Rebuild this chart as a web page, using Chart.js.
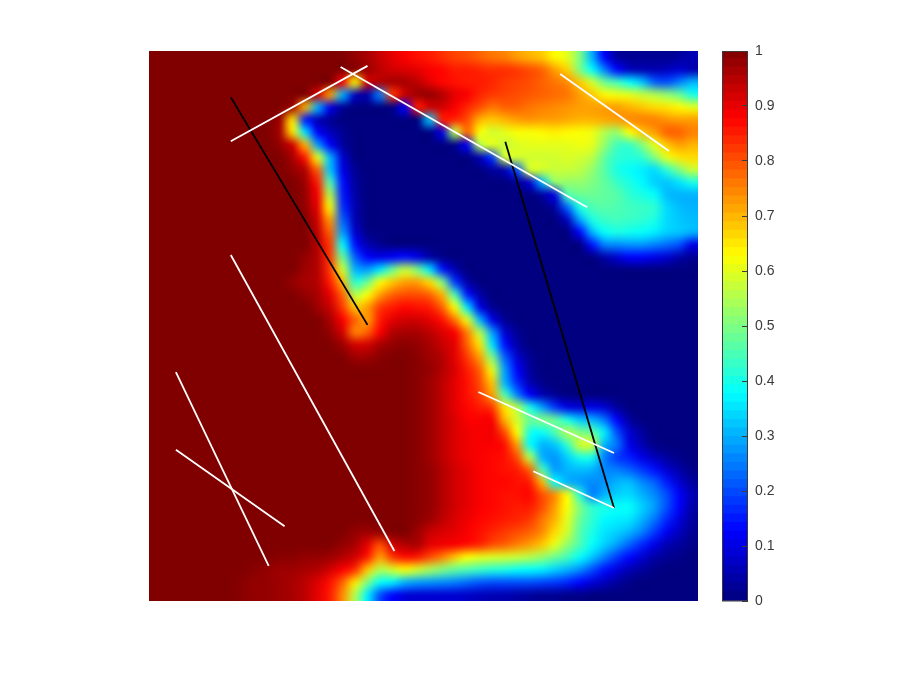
<!DOCTYPE html>
<html><head><meta charset="utf-8">
<style>html,body{margin:0;padding:0;background:#fff;width:900px;height:675px;overflow:hidden}
canvas{position:absolute;top:0}</style>
<script src="https://cdn.jsdelivr.net/npm/chart.js@4/dist/chart.umd.min.js"></script>
</head><body>
<canvas id="map" width="700" height="675" style="left:0"></canvas>
<canvas id="bar" width="200" height="675" style="left:700px"></canvas>
<script>
// field values x100, one row per image row, top to bottom
const fieldRows = [
[100,100,100,100,100,100,100,100,100,100,100,100,100,100,100,100,98,96,93,90,88,86,85,83,81,80,78,76,75,72,70,68,63,60,50,30,12,3,2,2,2,2,3,5],
[100,100,100,100,100,100,100,100,100,100,100,100,100,100,100,100,99,97,94,92,91,90,88,87,85,85,84,83,83,82,80,78,72,67,50,38,25,13,6,5,5,6,8,5],
[100,100,100,100,100,100,100,100,100,100,100,100,100,100,100,88,62,92,95,96,96,94,90,87,86,85,85,84,82,81,80,78,76,74,68,58,48,44,38,32,22,20,25,30],
[100,100,100,100,100,100,100,100,100,100,100,100,100,92,72,30,6,4,25,82,93,97,98,95,90,88,84,82,81,80,79,78,77,76,72,68,63,61,60,57,55,52,48,40],
[100,100,100,100,100,100,100,100,100,100,100,97,70,30,10,2,0,0,0,0,12,85,92,92,88,84,80,76,78,78,76,75,74,73,72,72,72,72,70,68,66,65,63,60],
[100,100,100,100,100,100,100,100,100,100,97,65,15,5,2,0,0,0,0,0,0,0,32,85,84,80,70,68,70,72,73,72,72,71,70,70,71,72,74,75,75,73,72,72],
[100,100,100,100,100,100,100,100,100,100,96,65,35,12,6,2,0,0,0,0,0,0,0,10,55,78,62,58,60,62,62,63,64,63,62,61,55,52,62,68,72,78,78,75],
[100,100,100,100,100,100,100,100,100,100,98,92,70,28,12,3,0,0,0,0,0,0,0,0,1,12,55,60,57,59,60,60,60,60,61,60,52,44,43,50,60,68,72,70],
[100,100,100,100,100,100,100,100,100,100,100,96,85,60,30,8,0,0,0,0,0,0,0,0,0,0,5,18,58,58,58,58,58,59,58,56,47,42,41,42,50,60,65,66],
[100,100,100,100,100,100,100,100,100,100,100,98,95,78,32,10,2,0,0,0,0,0,0,0,0,0,0,3,5,20,58,58,57,57,56,52,46,40,38,36,34,42,50,57],
[100,100,100,100,100,100,100,100,100,100,100,100,97,85,45,14,3,0,0,0,0,0,0,0,0,0,0,0,0,2,8,30,52,52,52,50,47,43,40,37,33,32,35,40],
[100,100,100,100,100,100,100,100,100,100,100,100,98,88,55,15,4,0,0,0,0,0,0,0,0,0,0,0,0,0,0,3,10,45,48,48,47,46,42,40,38,31,30,30],
[100,100,100,100,100,100,100,100,100,100,100,100,98,90,62,17,5,0,0,0,0,0,0,0,0,0,0,0,0,0,0,0,3,22,40,45,46,45,44,43,42,34,31,30],
[100,100,100,100,100,100,100,100,100,100,100,100,100,92,72,22,5,0,0,0,0,0,0,0,0,0,0,0,0,0,0,0,0,6,28,40,43,44,43,42,40,34,32,31],
[100,100,100,100,100,100,100,100,100,100,100,100,100,94,78,28,8,1,0,0,0,0,0,0,0,0,0,0,0,0,0,0,0,0,12,30,38,40,39,38,36,33,32,30],
[100,100,100,100,100,100,100,100,100,100,100,100,100,95,82,38,14,5,2,0,0,0,0,0,0,0,0,0,0,0,0,0,0,0,0,14,25,26,27,27,25,23,20,10],
[100,100,100,100,100,100,100,100,100,100,100,100,98,95,82,48,22,12,10,12,14,10,4,1,0,0,0,0,0,0,0,0,0,0,0,0,4,8,12,12,10,8,4,2],
[100,100,100,100,100,100,100,100,100,100,100,100,97,95,82,58,30,28,35,48,57,50,35,15,5,0,0,0,0,0,0,0,0,0,0,0,0,0,0,0,0,0,0,0],
[100,100,100,100,100,100,100,100,100,100,100,98,96,95,85,70,42,48,62,68,72,72,66,50,18,4,0,0,0,0,0,0,0,0,0,0,0,0,0,0,0,0,0,0],
[100,100,100,100,100,100,100,100,100,100,100,100,98,96,90,78,55,62,72,78,80,80,78,70,45,15,4,0,0,0,0,0,0,0,0,0,0,0,0,0,0,0,0,0],
[100,100,100,100,100,100,100,100,100,100,100,100,100,97,93,82,68,72,82,85,87,86,85,78,62,35,10,2,0,0,0,0,0,0,0,0,0,0,0,0,0,0,0,0],
[100,100,100,100,100,100,100,100,100,100,100,100,100,100,96,88,78,72,85,90,92,92,90,86,76,60,30,10,2,0,0,0,0,0,0,0,0,0,0,0,0,0,0,0],
[100,100,100,100,100,100,100,100,100,100,100,100,100,100,98,92,75,78,88,95,96,96,94,91,88,75,55,28,8,2,0,0,0,0,0,0,0,0,0,0,0,0,0,0],
[100,100,100,100,100,100,100,100,100,100,100,100,100,100,100,97,92,92,96,98,99,98,96,93,90,78,65,35,14,4,0,0,0,0,0,0,0,0,0,0,0,0,0,0],
[100,100,100,100,100,100,100,100,100,100,100,100,100,100,100,100,97,97,99,100,100,99,97,95,90,82,72,50,22,8,2,0,0,0,0,0,0,0,0,0,0,0,0,0],
[100,100,100,100,100,100,100,100,100,100,100,100,100,100,100,100,100,100,100,100,100,99,98,95,91,85,78,60,28,12,3,0,0,0,0,0,0,0,0,0,0,0,0,0],
[100,100,100,100,100,100,100,100,100,100,100,100,100,100,100,100,100,100,100,100,100,99,97,94,90,86,80,68,30,16,5,1,0,0,0,0,0,0,0,0,0,0,0,0],
[100,100,100,100,100,100,100,100,100,100,100,100,100,100,100,100,100,100,100,100,100,99,97,94,90,86,82,72,45,25,12,5,2,0,0,0,0,0,0,0,0,0,0,0],
[100,100,100,100,100,100,100,100,100,100,100,100,100,100,100,100,100,100,100,100,100,99,97,94,90,87,85,82,65,55,40,28,18,10,8,10,8,3,0,0,0,0,0,0],
[100,100,100,100,100,100,100,100,100,100,100,100,100,100,100,100,100,100,100,100,100,99,97,94,91,88,88,88,70,58,48,50,48,40,32,30,24,12,3,0,0,0,0,0],
[100,100,100,100,100,100,100,100,100,100,100,100,100,100,100,100,100,100,100,100,100,99,97,94,91,89,88,89,80,62,40,38,45,55,50,47,36,20,8,3,0,0,0,0],
[100,100,100,100,100,100,100,100,100,100,100,100,100,100,100,100,100,100,100,100,100,99,97,94,91,89,88,88,86,72,38,30,32,42,58,58,30,24,10,5,1,0,0,0],
[100,100,100,100,100,100,100,100,100,100,100,100,100,100,100,100,100,100,100,100,100,99,97,94,91,89,88,87,86,80,55,30,27,33,40,40,25,18,15,10,6,3,1,0],
[100,100,100,100,100,100,100,100,100,100,100,100,100,100,100,100,100,100,100,100,100,99,98,95,92,90,88,87,86,85,78,45,28,30,31,30,26,25,22,18,14,8,4,1],
[100,100,100,100,100,100,100,100,100,100,100,100,100,100,100,100,100,100,100,100,100,99,98,95,92,90,88,87,87,86,85,70,38,30,28,26,27,30,31,26,22,15,8,3],
[100,100,100,100,100,100,100,100,100,100,100,100,100,100,100,100,100,100,100,100,100,99,98,95,92,90,88,87,86,86,87,80,74,62,42,25,30,33,34,30,26,20,12,5],
[100,100,100,100,100,100,100,100,100,100,100,100,100,100,100,100,100,100,100,100,100,99,98,95,92,90,88,87,86,85,85,80,72,62,50,42,40,38,38,33,28,20,12,4],
[100,100,100,100,100,100,100,100,100,100,100,100,100,100,100,100,100,100,100,100,100,99,97,94,91,89,87,86,85,84,82,76,70,60,48,42,37,36,35,30,24,16,9,3],
[100,100,100,100,100,100,100,100,100,100,100,100,100,100,100,100,98,97,98,100,100,97,93,91,90,88,86,84,82,80,78,74,66,58,46,40,35,33,30,25,18,11,6,2],
[100,100,100,100,100,100,100,100,100,100,100,100,100,100,100,98,96,90,80,92,95,96,90,89,88,86,84,80,78,75,72,68,60,52,45,38,33,28,22,16,10,5,3,1],
[100,100,100,100,100,100,100,100,100,100,99,99,98,98,97,95,92,85,72,82,86,85,80,75,68,62,60,59,58,57,55,52,48,44,38,32,25,18,13,8,4,2,1,0],
[100,100,100,100,100,100,100,100,99,98,97,97,96,95,92,88,83,68,55,58,62,58,54,50,47,45,43,41,40,38,37,36,33,30,26,20,14,9,5,3,1,0,0,0],
[100,100,100,100,100,100,100,99,98,98,97,96,94,91,86,78,65,50,38,36,30,28,27,26,25,23,21,20,20,20,20,19,18,16,13,9,6,3,1,0,0,0,0,0],
[100,100,100,100,100,100,100,99,98,98,97,96,94,90,85,74,55,36,20,13,9,8,8,8,8,7,6,5,5,4,3,2,2,1,1,0,0,0,0,0,0,0,0,0]
];
const whiteSegments = [
  [[.149,.836],[.398,.973]],
  [[.349,.971],[.798,.716]],
  [[.749,.958],[.947,.818]],
  [[.149,.629],[.447,.091]],
  [[.049,.416],[.218,.064]],
  [[.049,.275],[.247,.136]],
  [[.600,.380],[.847,.269]],
  [[.700,.236],[.847,.169]]
];
const blackSegments = [
  [[.149,.916],[.398,.502]],
  [[.649,.835],[.847,.169]]
];
const colorbarTicks = ['0','0.1','0.2','0.3','0.4','0.5','0.6','0.7','0.8','0.9','1'];
const colorLevels = 64;

function jet(v){
  const c = t => Math.round(255*Math.max(0,Math.min(1,1.5-Math.abs(4*v-t))));
  return `rgb(${c(3)},${c(2)},${c(1)})`;
}
const nRows = fieldRows.length, nCols = fieldRows[0].length;
const cellPoints = [], cellColors = [];
fieldRows.forEach((row,j)=>row.forEach((val,i)=>{
  cellPoints.push({x:(i+.5)/nCols, y:1-(j+.5)/nRows});
  cellColors.push(jet(val/100));
}));
const lineSet = (seg,color)=>({type:'scatter',showLine:true,data:seg.map(p=>({x:p[0],y:p[1]})),
  borderColor:color,borderWidth:1.8,pointRadius:0,order:1,fill:false,tension:0});

// Blend the drawn cells together (the reference map is shaded, not blocky).
const smoothCells = {
  id:'smoothCells',
  afterDatasetDraw(chart,args){
    if(args.index!==0) return;
    const a=chart.chartArea, w=a.right-a.left, h=a.bottom-a.top;
    const off=document.createElement('canvas'); off.width=nCols; off.height=nRows;
    const o=off.getContext('2d'); o.imageSmoothingEnabled=false;
    o.drawImage(chart.canvas,a.left,a.top,w,h,0,0,nCols,nRows);
    const ctx=chart.ctx; ctx.save(); ctx.imageSmoothingEnabled=true; ctx.imageSmoothingQuality='high';
    ctx.drawImage(off,0,0,nCols,nRows,a.left,a.top,w,h); ctx.restore();
  }
};

new Chart(document.getElementById('map'),{
  type:'scatter',
  data:{datasets:[
    {data:cellPoints,pointStyle:'rect',pointRadius:9.2,pointBorderWidth:0,pointBackgroundColor:cellColors,order:10,showLine:false},
    ...whiteSegments.map(s=>lineSet(s,'#ffffff')),
    ...blackSegments.map(s=>lineSet(s,'#000000'))
  ]},
  options:{responsive:false,animation:false,devicePixelRatio:1,
    layout:{autoPadding:false,padding:{left:149,top:51,right:2,bottom:74}},
    plugins:{legend:{display:false},tooltip:{enabled:false}},
    scales:{x:{type:'linear',min:0,max:1,display:false},y:{type:'linear',min:0,max:1,display:false}}
  },
  plugins:[smoothCells]
});

const levelBars=[];
for(let k=0;k<colorLevels;k++){
  levelBars.push({data:[[k/colorLevels,(k+1.15)/colorLevels]],backgroundColor:jet((k+.5)/colorLevels),
    borderWidth:0,grouped:false,barPercentage:1,categoryPercentage:1});
}
const boxFrame={id:'boxFrame',afterDraw(c){const a=c.chartArea,x=c.ctx;x.save();x.strokeStyle='#3a3a3a';x.lineWidth=1;
  x.strokeRect(a.left+.5,a.top+.5,a.right-a.left-1,a.bottom-a.top-.5);x.restore();}};
new Chart(document.getElementById('bar'),{
  type:'bar',
  data:{labels:[''],datasets:levelBars},
  options:{responsive:false,animation:false,devicePixelRatio:1,
    layout:{autoPadding:false,padding:{left:22,top:51,right:112,bottom:74}},
    plugins:{legend:{display:false},tooltip:{enabled:false}},
    scales:{
      x:{display:false},
      y:{type:'linear',min:0,max:1,position:'right',
        afterFit(s){s.width=40;},
        border:{display:false},
        grid:{drawOnChartArea:false,drawTicks:true,tickLength:-6,tickWidth:1,tickColor:'#3a3a3a',z:1},
        ticks:{stepSize:.1,autoSkip:false,padding:13,color:'#3a3a3a',
          font:{family:'"Liberation Sans",Arial,sans-serif',size:14},
          callback:v=>colorbarTicks[Math.round(v*10)]}
      }
    }
  },
  plugins:[boxFrame]
});
</script>
</body></html>
